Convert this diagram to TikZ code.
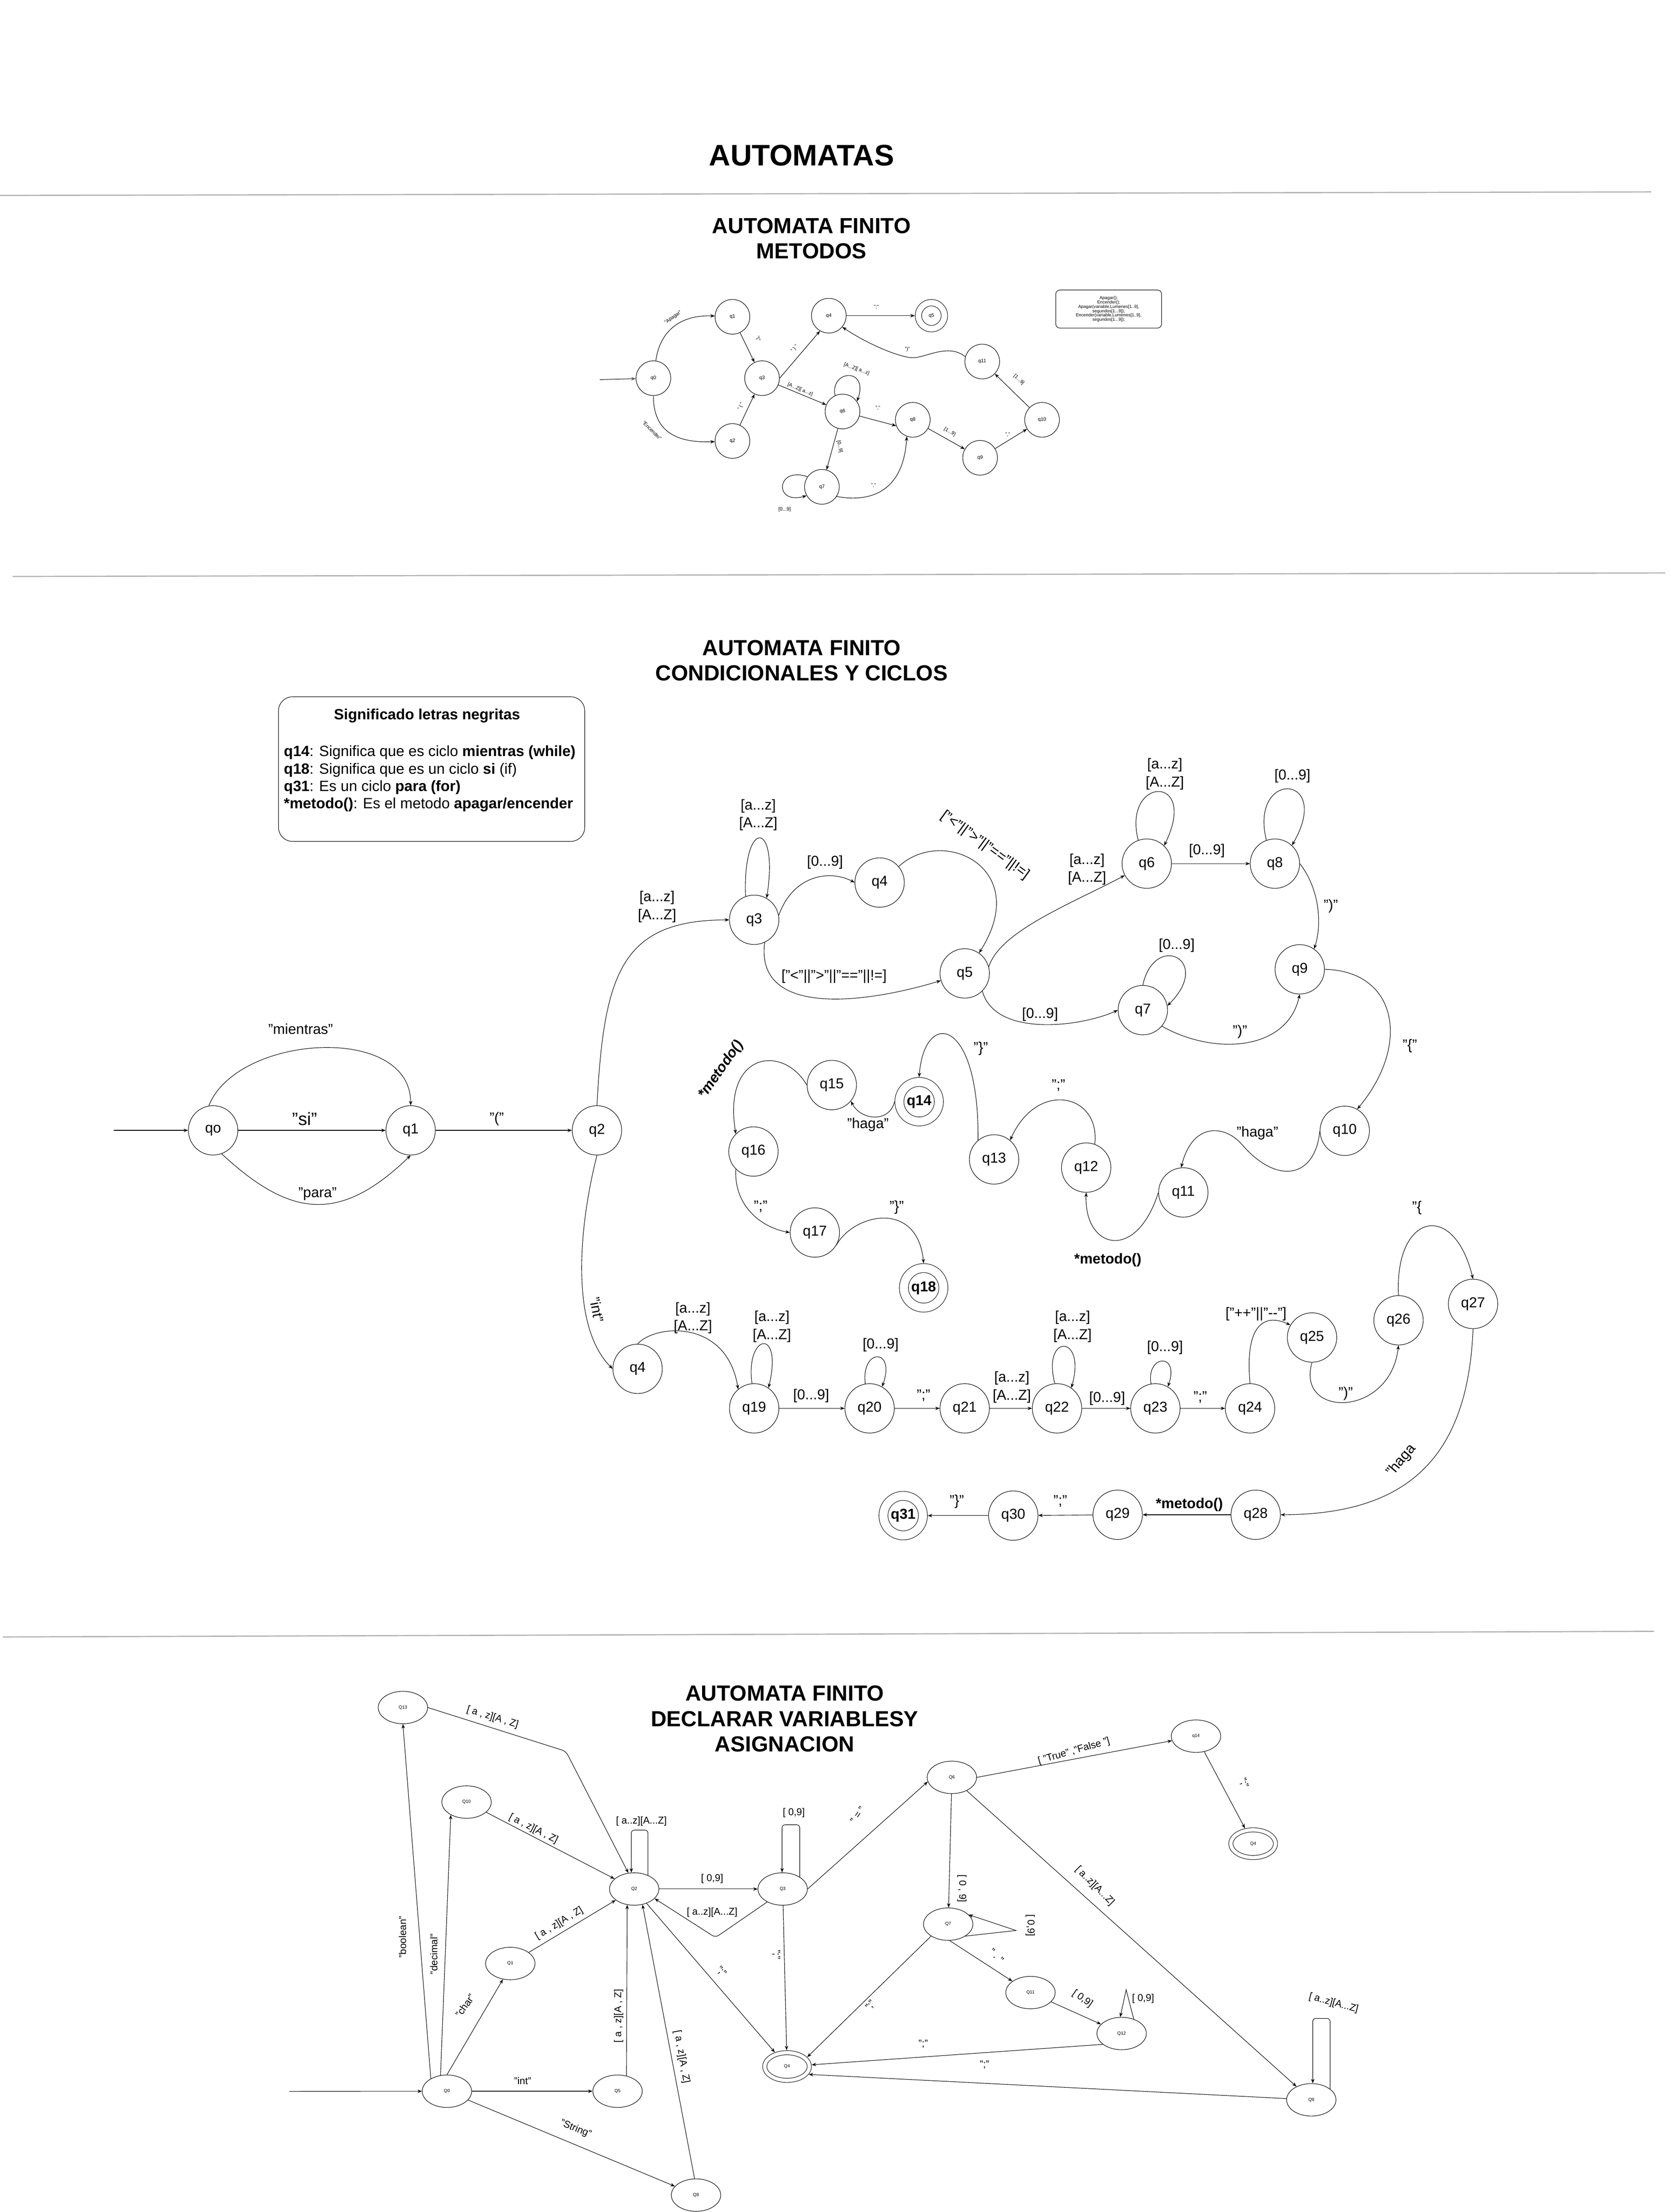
\documentclass[tikz,border=0pt]{standalone}
\usepackage{fontspec}
\setmainfont{Liberation Sans}
\usetikzlibrary{arrows.meta,shapes.geometric}

\begin{document}
\begin{tikzpicture}
    [x=0.5mm, y=-0.5mm, line width=0.5pt,
      >={Stealth[length=1.6mm,width=1.2mm]},
      tit/.style = {align=center, font=\fontsize{22}{25.6}\selectfont\bfseries},
      linea/.style = {draw=gray!60, line width=1.2pt},
      ms/.style = {circle, draw, minimum size=12.3mm, inner sep=0pt,
        font=\fontsize{5}{6}\selectfont},
      ma/.style = {ms, minimum size=9.2mm, double, double distance=2.1mm,
        outer sep=1.3mm},
      lm/.style = {inner sep=0.5pt, font=\fontsize{5}{6}\selectfont},
      st/.style = {circle, draw, minimum size=17.5mm, inner sep=0pt,
        font=\fontsize{14.5}{17}\selectfont},
      ac/.style = {st, minimum size=14mm, double, double distance=3mm,
        outer sep=1.7mm, font=\fontsize{14.5}{17}\selectfont\bfseries},
      lc/.style = {align=center, inner sep=1pt,
        font=\fontsize{14.5}{18}\selectfont},
      es/.style = {ellipse, draw, minimum width=17.5mm, minimum height=11.5mm,
        inner sep=0pt, font=\fontsize{4.5}{5}\selectfont},
      ea/.style = {es, minimum width=15.8mm, minimum height=9.8mm, double,
        double distance=1.3mm, outer sep=0.86mm},
      ld/.style = {inner sep=1pt, font=\fontsize{10}{12}\selectfont}]

    \fill[white] (0,0) rectangle (1184,1567.5);
    \useasboundingbox (0,0) rectangle (1184,1567.5);

    \node[tit, font=\fontsize{30}{34}\selectfont\bfseries] (t0) at (568,110) {AUTOMATAS};
    \draw[linea] (0,138.5) -- (1170,136);
    \draw[linea] (9,408.5) -- (1180,406);
    \draw[linea] (2,1160) -- (1172,1156);

    \node[tit] (t1) at (575,169) {AUTOMATA FINITO\\METODOS};
    \node[ms] (mq0) at (463,268) {q0};
    \node[ms] (mq1) at (519,224.5) {q1};
    \node[ms] (mq2) at (519,312.5) {q2};
    \node[ms] (mq3) at (540,268) {q3};
    \node[ms] (mq4) at (587.3,223.7) {q4};
    \node[ma] (mq5) at (660,223.7) {q5};
    \node[ms] (mq6) at (597,291.6) {q6};
    \node[ms] (mq7) at (582.4,345) {q7};
    \node[ms] (mq8) at (646.8,297.5) {q8};
    \node[ms] (mq9) at (694.5,324.4) {q9};
    \node[ms] (mq10) at (738.4,297.5) {q10};
    \node[ms] (mq11) at (696,256.2) {q11};
    \node[draw, rounded corners=1.5mm, minimum width=37.5mm, minimum height=13.5mm,
      align=center, inner sep=0pt, font=\fontsize{4.4}{4.4}\selectfont] (mnota) at (785.6,219)
    {Apagar();\\Encender();\\Apagar(variable,Lumenes[1..9],\\segundos[1...9]);\\
      Encender(variable,Lumenes[1..9],\\segundos[1...9]);};
    \coordinate (mi) at (425,269);

    \draw[->, gray!70!black, line width=0.8pt] (mi) -- (mq0);
    \draw[->] (mq0) .. controls (468,232) and (485,223) .. (mq1);
    \draw[->] (mq0) .. controls (463,305) and (478,314) .. (mq2);
    \draw[->] (mq1) -- (mq3);
    \draw[->] (mq2) -- (mq3);
    \draw[->] (mq3.east) -- (mq4.-120);
    \draw[->] (mq4) -- (mq5);
    \draw[->] (mq3) -- (mq6);
    \draw[->] (mq6.115) .. controls (588,262) and (616,260) .. (mq6.35);
    \draw[->] (mq6.-15) -- (mq8.200);
    \draw[->] (mq6) -- (mq7);
    \draw[->] (mq7.145) .. controls (550,330) and (548,358) .. (mq7.210);
    \draw[->] (mq7.-33) .. controls (615,356) and (640,350) .. (mq8.-110);
    \draw[->] (mq8) -- (mq9);
    \draw[->] (mq9) -- (mq10);
    \draw[->] (mq10) -- (mq11);
    \draw[->] (mq11.164) .. controls (672,243) and (656,253.5) .. (647,253.5)
      .. controls (638,253.5) and (615,244) .. (mq4.-40);

    \node[lm, rotate=35] (lm1) at (477,225) {"Apagar"};
    \node[lm, rotate=-45] (lm2) at (462,305) {"Encender"};
    \node[lm, rotate=-70] (lm3) at (537,240) {"("};
    \node[lm, rotate=65] (lm4) at (525,288) {" ( "};
    \node[lm, rotate=50] (lm5) at (563,247) {" ) "};
    \node[lm] (lm6) at (621,217.6) {";"};
    \node[lm, rotate=-22] (lm7) at (567,276) {[A...Z][ a...z]};
    \node[lm, rotate=-20] (lm8) at (607,261.5) {[A...Z][ a...z]};
    \node[lm] (lm9) at (622,289) {","};
    \node[lm, rotate=-78] (lm10) at (595,316.5) {[0...9]};
    \node[lm] (lm11) at (556,361) {[0...9]};
    \node[lm] (lm12) at (619,344) {","};
    \node[lm, rotate=-30] (lm13) at (673,306) {[1...9]};
    \node[lm] (lm14) at (714,308) {","};
    \node[lm, rotate=-42] (lm15) at (722,269) {[1...9]};
    \node[lm] (lm16) at (643,247.5) {")"};

    \node[tit] (t2) at (568,468) {AUTOMATA FINITO\\CONDICIONALES Y CICLOS};
    \node[draw, rounded corners=5mm, minimum width=108.5mm, minimum height=51.25mm] (nota) at (305.85,545) {};
    \node[font=\fontsize{15}{17.6}\selectfont\bfseries] (notat) at (302.6,507.2) {Significado letras negritas};
    \node[anchor=west, align=left, inner sep=0pt, font=\fontsize{15}{17.6}\selectfont] (notal) at (201,551.8)
    {\textbf{q14}: Significa que es ciclo \textbf{mientras (while)}\\
      \textbf{q18}: Significa que es un ciclo \textbf{si} (if)\\
      \textbf{q31}: Es un ciclo \textbf{para (for)}\\
      \textbf{*metodo()}: Es el metodo \textbf{apagar/encender}};

    \node[st] (q0) at (151,801) {qo};
    \node[st] (q1) at (291,801) {q1};
    \node[st] (q2) at (423,801) {q2};
    \node[st] (q3) at (534.4,651.8) {q3};
    \node[st] (q4) at (623.3,625.4) {q4};
    \node[st] (q5) at (683.6,689.8) {q5};
    \node[st] (q6) at (812.6,612) {q6};
    \node[st] (q7) at (809.8,715.8) {q7};
    \node[st] (q8) at (903.4,612) {q8};
    \node[st] (q9) at (921,686.9) {q9};
    \node[st] (q10) at (952.9,801.3) {q10};
    \node[st] (q11) at (838.5,845) {q11};
    \node[st] (q12) at (769.7,827.4) {q12};
    \node[st] (q13) at (704.4,821.6) {q13};
    \node[ac] (q14) at (651.3,780.7) {q14};
    \node[st] (q15) at (589.4,768.9) {q15};
    \node[st] (q16) at (533.9,816) {q16};
    \node[st] (q17) at (577.4,873.4) {q17};
    \node[ac] (q18) at (654.5,912.6) {q18};
    \node[st] (q4i) at (451.8,970) {q4};
    \node[st] (q19) at (534.4,998) {q19};
    \node[st] (q20) at (616.2,998) {q20};
    \node[st] (q21) at (683.6,998) {q21};
    \node[st] (q22) at (749,998) {q22};
    \node[st] (q23) at (818.7,998) {q23};
    \node[st] (q24) at (885.8,998) {q24};
    \node[st] (q25) at (929.7,947.8) {q25};
    \node[st] (q26) at (991,935.6) {q26};
    \node[st] (q27) at (1043.8,924) {q27};
    \node[st] (q28) at (889.8,1073.4) {q28};
    \node[st] (q29) at (792,1073.4) {q29};
    \node[st] (q30) at (718,1074) {q30};
    \node[ac] (q31) at (640,1074) {q31};
    \coordinate (ci) at (80.5,801);

    \draw[->] (ci) -- (q0);
    \draw[->] (q0) -- (q1);
    \draw[->] (q0.100) .. controls (168,733) and (291,725) .. (q1.north);
    \draw[->] (q0.-70) .. controls (205,862) and (240,868) .. (q1.south);
    \draw[->] (q1) -- (q2);
    \draw[->] (q2.north) .. controls (428,690) and (440,652) .. (q3);
    \draw[->] (q3.110) .. controls (526,580) and (552,580) .. (q3.60);
    \draw[->] (q3.10) .. controls (562,620) and (588,616) .. (q4.west);
    \draw[->] (q4.40) .. controls (668,585) and (732,615) .. (q5.55);
    \draw[->] (q3.-65) .. controls (535,720) and (610,712) .. (q5);
    \draw[->] (q5.15) .. controls (708,660) and (760,640) .. (q6);
    \draw[->] (q5.-45) .. controls (705,735) and (765,728) .. (q7.west);
    \draw[->] (q6.110) .. controls (795,550) and (850,548) .. (q6.46);
    \draw[->] (q6) -- (q8);
    \draw[->] (q8.110) .. controls (885,545) and (945,548) .. (q8.47);
    \draw[->] (q8.east) .. controls (935,630) and (937,655) .. (q9.55);
    \draw[->] (q7.north) .. controls (818,660) and (860,680) .. (q7.10);
    \draw[->] (q7.-40) .. controls (860,748) and (912,745) .. (q9.south);
    \draw[->] (q9.east) .. controls (990,688) and (1000,740) .. (q10.60);
    \draw[->] (q10.180) .. controls (932,835) and (905,840) .. (880,811)
      .. controls (868,797) and (845,795) .. (q11.95);
    \draw[->] (q11.180) .. controls (805,895) and (768,885) .. (q12.south);
    \draw[->] (q12.70) .. controls (780,775) and (735,765) .. (q13.50);
    \draw[->] (q13.130) .. controls (694,720) and (655,715) .. (q14.north);
    \draw[->] (q14.180) .. controls (630,796) and (610,794) .. (q15.-40);
    \draw[->] (q15.180) .. controls (555,740) and (512,745) .. (q16.135);
    \draw[->] (q16.225) .. controls (520,855) and (540,870) .. (q17.180);
    \draw[->] (q17.-30) .. controls (605,860) and (650,850) .. (q18.north);
    \draw[->] (q2.south) .. controls (410,870) and (404,940) .. (q4i.180);
    \draw[->] (q4i.north) .. controls (465,938) and (515,935) .. (q19.130);
    \draw[->] (q19.95) .. controls (528,945) and (555,940) .. (q19.55);
    \draw[->] (q19) -- (q20);
    \draw[->] (q20.100) .. controls (610,955) and (635,955) .. (q20.60);
    \draw[->] (q20) -- (q21);
    \draw[->] (q21) -- (q22);
    \draw[->] (q22.95) .. controls (738,945) and (770,945) .. (q22.55);
    \draw[->] (q22) -- (q23);
    \draw[->] (q23.100) .. controls (812,960) and (836,958) .. (q23.60);
    \draw[->] (q23) -- (q24);
    \draw[->] (q24.north) .. controls (882,940) and (895,930) .. (q25.150);
    \draw[->] (q25.south) .. controls (918,1005) and (985,1005) .. (q26.south);
    \draw[->] (q26.north) .. controls (988,860) and (1030,850) .. (q27.north);
    \draw[->] (q27.south) .. controls (1040,1040) and (990,1073) .. (q28.east);
    \draw[->] (q28) -- (q29);
    \draw[->] (q29) -- (q30);
    \draw[->] (q30) -- (q31);

    \node[lc] (c1) at (213,729) {"mientras"};
    \node[lc, font=\fontsize{18}{20}\selectfont] (c2) at (216,793) {"si"};
    \node[lc] (c3) at (225,846) {"para"};
    \node[lc] (c4) at (352,793) {"("};
    \node[lc] (c5) at (465.6,642.5) {{[a...z]}\\{[A...Z]}};
    \node[lc] (c6) at (537.3,577.5) {{[a...z]}\\{[A...Z]}};
    \node[lc] (c7) at (584.6,611) {[0...9]};
    \node[lc, rotate=-36] (c8) at (698,599) {["<"||">"||"=="||!=]};
    \node[lc] (c9) at (591,692) {["<"||">"||"=="||!=]};
    \node[lc] (c10) at (770.3,616) {{[a...z]}\\{[A...Z]}};
    \node[lc] (c11) at (737,719) {[0...9]};
    \node[lc] (c12) at (825.4,548.5) {{[a...z]}\\{[A...Z]}};
    \node[lc] (c13) at (855.2,603) {[0...9]};
    \node[lc] (c14) at (915.8,550) {[0...9]};
    \node[lc] (c15) at (943,642) {")"};
    \node[lc] (c16) at (833.8,670) {[0...9]};
    \node[lc] (c17) at (878.6,731) {")"};
    \node[lc] (c18) at (999,741) {"\{"};
    \node[lc] (c19) at (891,803) {"haga"};
    \node[lc, font=\fontsize{14.5}{18}\selectfont\bfseries] (c20) at (785,893) {*metodo()};
    \node[lc] (c21) at (750,769) {";"};
    \node[lc] (c22) at (695,743) {"\}"};
    \node[lc] (c23) at (615,797) {"haga"};
    \node[lc, rotate=55, font=\fontsize{14.5}{18}\selectfont\bfseries\itshape] (c24) at (511,758) {*metodo()};
    \node[lc] (c25) at (539,855) {";"};
    \node[lc] (c26) at (635.4,855.6) {"\}"};
    \node[lc, rotate=-80] (c27) at (423,928) {"int"};
    \node[lc] (c28) at (491,934) {{[a...z]}\\{[A...Z]}};
    \node[lc] (c29) at (547,940) {{[a...z]}\\{[A...Z]}};
    \node[lc] (c30) at (574.8,989) {[0...9]};
    \node[lc] (c31) at (624,953) {[0...9]};
    \node[lc] (c32) at (654.4,989) {";"};
    \node[lc] (c33) at (717,983) {{[a...z]}\\{[A...Z]}};
    \node[lc] (c34) at (760,940) {{[a...z]}\\{[A...Z]}};
    \node[lc] (c35) at (784.5,991) {[0...9]};
    \node[lc] (c36) at (825.5,955) {[0...9]};
    \node[lc] (c37) at (850.5,990) {";"};
    \node[lc] (c38) at (890,931) {["++"||"-{}-"]};
    \node[lc] (c39) at (953.6,987.6) {")"};
    \node[lc] (c40) at (1004,856) {"\{};
    \node[lc, rotate=50] (c41) at (993,1035) {"haga};
    \node[lc, font=\fontsize{14.5}{18}\selectfont\bfseries] (c42) at (842.8,1066.2) {*metodo()};
    \node[lc] (c43) at (751.3,1063.7) {";"};
    \node[lc] (c44) at (678,1064) {"\}"};

    \node[tit] (t3) at (556,1218) {AUTOMATA FINITO\\DECLARAR VARIABLESY\\ASIGNACION};
    \node[es] (Q0) at (316.7,1481.9) {Q0};
    \node[es] (Q1) at (361.6,1391.4) {Q1};
    \node[es] (Q2) at (449.4,1338.6) {Q2};
    \node[es] (Q3) at (554.6,1338.6) {Q3};
    \node[ea] (Q4) at (557.7,1464.4) {Q4};
    \node[es] (Q5) at (437.6,1481.9) {Q5};
    \node[es] (Q6) at (674.5,1259.5) {Q6};
    \node[es] (Q7) at (671.9,1363.5) {Q7};
    \node[es] (Q8) at (493.2,1555.5) {Q8};
    \node[es] (Q9) at (929.2,1488) {Q9};
    \node[es] (Q10) at (330.6,1277) {Q10};
    \node[es] (Q11) at (730.2,1412) {Q11};
    \node[es] (Q12) at (794.8,1441) {Q12};
    \node[es] (Q13) at (285.5,1210) {Q13};
    \node[es] (Q14) at (847.5,1230.3) {q14};
    \node[ea] (Q4v) at (888,1306.5) {Q4};
    \coordinate (di) at (205,1482);
    \coordinate (k13) at (401,1241);
    \coordinate (k32) at (507,1373);
    \coordinate (k7) at (720,1368);
    \coordinate (k12) at (798,1410);

    \draw[->] (di) -- (Q0);
    \draw[->] (Q0.142) -- (Q13.south);
    \draw[->] (Q0.112) -- (Q10.-141);
    \draw[->] (Q0.north) -- (Q1.-115);
    \draw[->] (Q0) -- (Q5);
    \draw[->] (Q0) -- (Q8);
    \draw[->, rounded corners=4pt] (Q13.east) -- (k13) -- (Q2.110);
    \draw[->] (Q10) -- (Q2);
    \draw[->] (Q1) -- (Q2);
    \draw[->] (Q5.60) -- (Q2.-114);
    \draw[->] (Q8.95) -- (Q2.-62);
    \draw[->, rounded corners=3pt] (Q2.45) -- ++(0,-32) -| (Q2.100);
    \draw[->] (Q2) -- (Q3);
    \draw[->, rounded corners=4pt] (Q3.-140) -- (k32) -- (Q2.-25);
    \draw[->, rounded corners=3pt] (Q3.35) -- ++(0,-37) -| (Q3.92);
    \draw[->] (Q2) -- (Q4);
    \draw[->] (Q3) -- (Q4);
    \draw[->] (Q3.east) -- (Q6.-170);
    \draw[->] (Q6.east) -- (Q14);
    \draw[->] (Q14) -- (Q4v);
    \draw[->] (Q6) -- (Q7);
    \draw[->] (Q7.-35) -- (k7) -- (Q7.25);
    \draw[->] (Q6) -- (Q9);
    \draw[->] (Q7.-85) -- (Q11.148);
    \draw[->] (Q7.-145) -- (Q4.25);
    \draw[->] (Q11) -- (Q12);
    \draw[->] (Q12.50) -- (k12) -- (Q12.95);
    \draw[->] (Q12.-150) -- (Q4);
    \draw[->] (Q9) -- (Q4.-20);
    \draw[->, rounded corners=3pt] (Q9.30) -- ++(0,-50) -| (Q9.85);

    \node[ld, rotate=-17] (b1) at (349,1217) {[ a , z][A , Z]};
    \node[ld, rotate=-27] (b2) at (378,1296) {[ a , z][A , Z]};
    \node[ld] (b3) at (454.5,1290.6) {[ a..z][A...Z]};
    \node[ld] (b4) at (504.6,1331.4) {[ 0,9]};
    \node[ld] (b5) at (504.6,1355) {[ a..z][A...Z]};
    \node[ld] (b6) at (562.5,1284.7) {[ 0,9]};
    \node[ld, rotate=31] (b7) at (396.2,1362.9) {[ a , z][A , Z]};
    \node[ld, rotate=90] (b8) at (285.2,1372.6) {"boolean"};
    \node[ld, rotate=90] (b9) at (307.4,1384.8) {"decimal"};
    \node[ld, rotate=55] (b10) at (329.6,1421.2) {"char"};
    \node[ld] (b11) at (370.4,1474.6) {"int"};
    \node[ld, rotate=-22] (b12) at (408,1508.6) {"String"};
    \node[ld, rotate=90] (b13) at (438.4,1428.5) {[ a , z][A , Z]};
    \node[ld, rotate=-80] (b14) at (483,1457.6) {[ a , z][A , Z]};
    \node[ld, rotate=-50] (b15) at (511,1397) {";"};
    \node[ld, rotate=-90] (b16) at (550,1385) {";"};
    \node[ld, rotate=55] (b17) at (607.8,1286) {" = "};
    \node[ld, rotate=16] (b18) at (761,1241) {[ "True" ,"False "]};
    \node[ld, rotate=-70] (b19) at (881.3,1263.6) {";"};
    \node[ld, rotate=-90] (b20) at (681.6,1338.3) {[ 0 , 9]};
    \node[ld, rotate=-90] (b21) at (730,1364.4) {[ 0,9]};
    \node[ld, rotate=-45] (b22) at (775.8,1336.4) {[ a..z][A...Z]};
    \node[ld, rotate=-45] (b23) at (706.2,1386) {" . "};
    \node[ld, rotate=50] (b24) at (617,1421) {";"};
    \node[ld, rotate=-35] (b25) at (767,1416.3) {[ 0,9]};
    \node[ld] (b26) at (810,1416.3) {[ 0,9]};
    \node[ld] (b27) at (654.2,1448.4) {";"};
    \node[ld] (b28) at (697.6,1463.3) {";"};
    \node[ld, rotate=-15] (b29) at (945,1419.5) {[ a..z][A...Z]};
\end{tikzpicture}
\end{document}
